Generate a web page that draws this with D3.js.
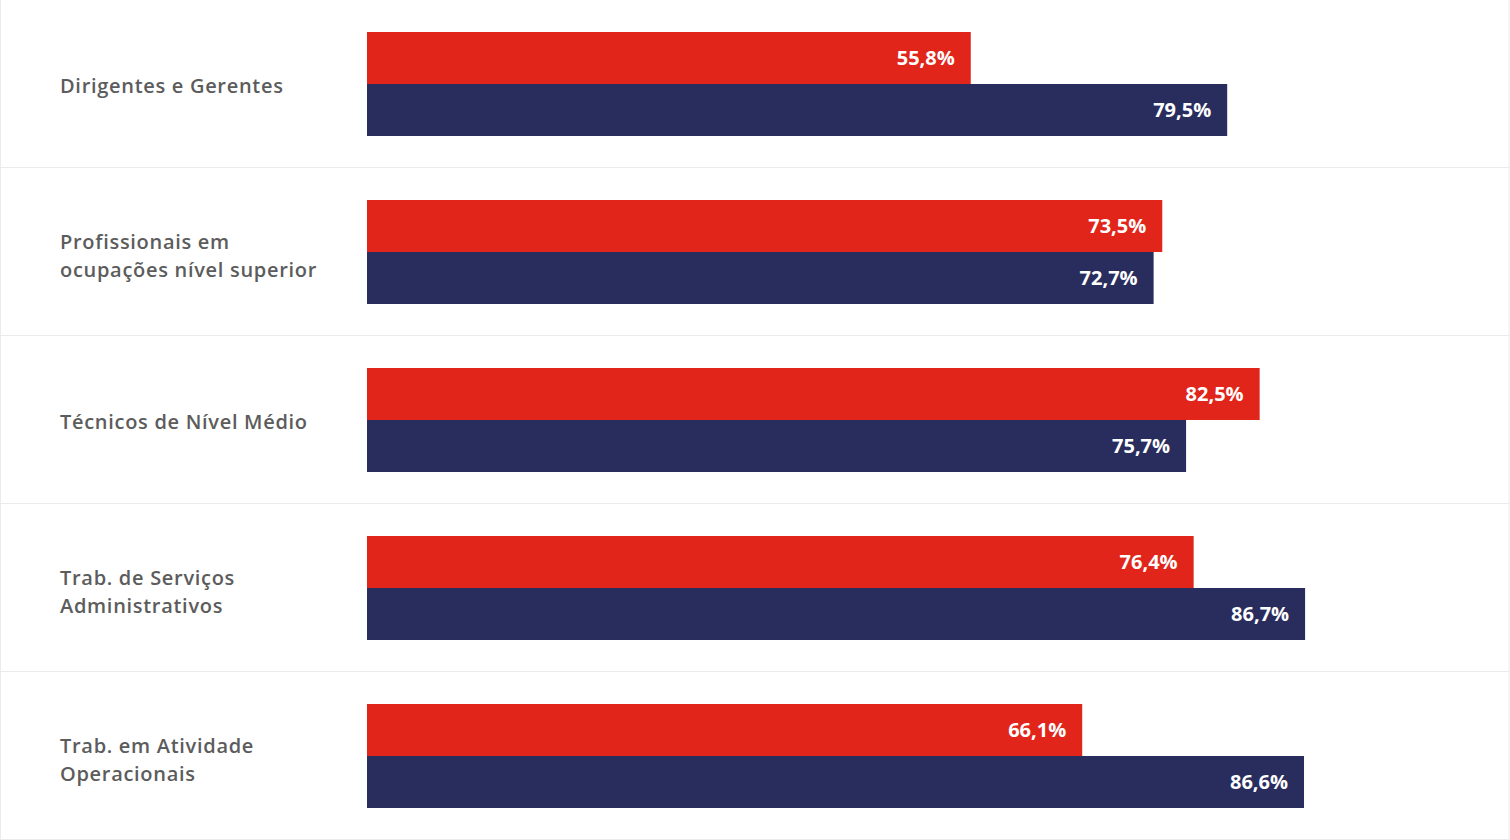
<!DOCTYPE html>
<html><head><meta charset="utf-8">
<script src="https://cdn.jsdelivr.net/npm/d3@7"></script>
<style>html,body{margin:0;padding:0;background:#fff;overflow:hidden}</style>
</head><body>
<svg id="c" width="1510" height="840"></svg>
<script>
const categories = [
  ["Dirigentes e Gerentes"],
  ["Profissionais em", "ocupações nível superior"],
  ["Técnicos de Nível Médio"],
  ["Trab. de Serviços", "Administrativos"],
  ["Trab. em Atividade", "Operacionais"]
];
const seriesRed = [55.8, 73.5, 82.5, 76.4, 66.1];
const seriesBlue = [79.5, 72.7, 75.7, 86.7, 86.6];
const colors = {red: "#e1251b", blue: "#282d5e"};

const W = 1510, H = 840;
const svg = d3.select("#c");
const font = "'Open Sans', sans-serif";

const y = d3.scaleBand().domain(d3.range(categories.length)).range([0, 840]).padding(0);
const x = d3.scaleLinear().domain([0, 100]).range([367, 1449]);
const rowH = y.bandwidth();
const barH = 52, barTop = 32;

const rows = svg.selectAll("g.row").data(categories).join("g")
  .attr("class", "row")
  .attr("transform", (d, i) => `translate(0,${y(i)})`);

// row borders
rows.append("rect")
  .attr("x", 0.5).attr("y", -0.5)
  .attr("width", W - 1.5).attr("height", rowH)
  .attr("fill", "none").attr("stroke", "#ebebeb").attr("stroke-width", 1);

// labels
rows.each(function(lines) {
  const g = d3.select(this);
  const lh = 28;
  const startY = rowH / 2 - (lines.length - 1) * lh / 2 + (lines.length > 1 ? 4 : 2);
  const t = g.append("text")
    .attr("font-family", font).attr("font-size", 20).attr("font-weight", 600)
    .attr("letter-spacing", "0.7px")
    .attr("fill", "#5c5c5c");
  lines.forEach((ln, k) => {
    t.append("tspan").attr("x", 60).attr("y", startY + k * lh)
      .attr("dy", "0.35em").text(ln);
  });
});

const fmt = v => d3.format(".1f")(v).replace(".", ",") + "%";

[[seriesRed, colors.red, 0], [seriesBlue, colors.blue, 1]].forEach(([vals, col, k]) => {
  rows.append("rect")
    .attr("x", x(0)).attr("y", (d, i) => barTop + k * barH)
    .attr("width", (d, i) => x(vals[i]) - x(0)).attr("height", barH)
    .attr("fill", col);
  rows.append("text")
    .attr("x", (d, i) => x(vals[i]) - 16)
    .attr("y", barTop + k * barH + barH / 2)
    .attr("dy", "0.35em").attr("text-anchor", "end")
    .attr("font-family", font).attr("font-size", 20).attr("font-weight", 700)
    .attr("fill", "#fff")
    .text((d, i) => fmt(vals[i]));
});
</script>
</body></html>
